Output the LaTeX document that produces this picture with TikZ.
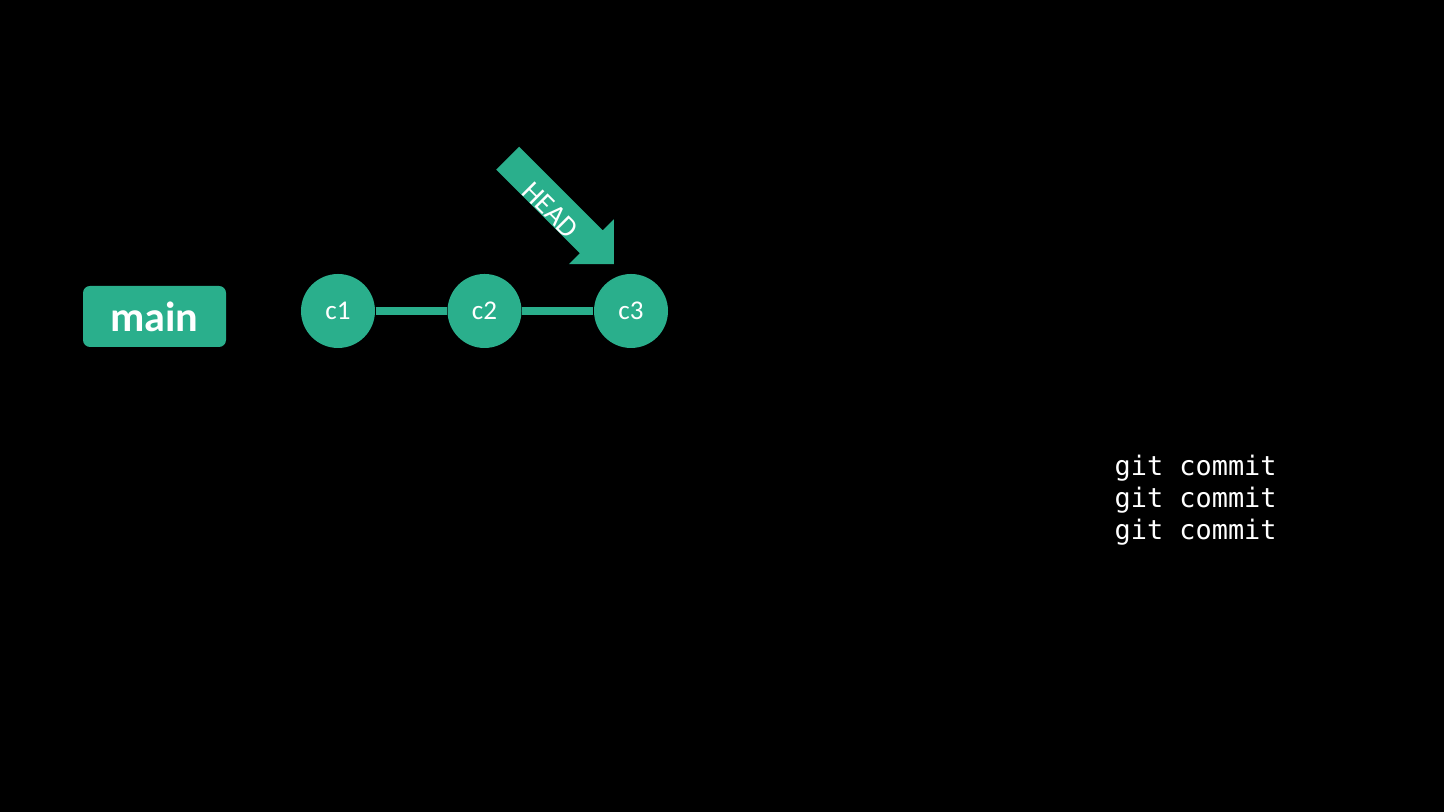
\documentclass[tikz,border=0pt]{standalone}
\usepackage{fontspec}
\setmainfont{Carlito}
\newfontfamily\codefont{DejaVu Sans Mono}
\usepackage{tikz}
\usetikzlibrary{positioning,shapes.arrows}
\definecolor{gitgreen}{RGB}{42,175,140}

\begin{document}
\begin{tikzpicture}[node distance = 1.465cm,
                    commit node/.style={circle,fill=gitgreen,text=white,minimum size=0.74cm,inner sep=0pt,
                                        font=\fontsize{7.7}{9}\selectfont},
                    branch node/.style={rectangle,rounded corners=0.07cm,fill=gitgreen,text=white,
                                        minimum width=1.43cm,minimum height=0.61cm,font=\fontsize{12}{14}\selectfont\bfseries},
                    head node/.style={single arrow,fill=gitgreen,text=white,rotate=-45,
                                      minimum height=1.5cm,single arrow head extend=0.155cm,
                                      single arrow tip angle=90,inner xsep=2pt,inner ysep=0pt,
                                      text height=0.31cm,text depth=0pt,font=\fontsize{8.2}{9}\selectfont},
                    link/.style={gitgreen,line width=0.08cm}]

  \fill[black] (0,0) rectangle (14.44,8.12);
  \useasboundingbox (0,0) rectangle (14.44,8.12);

  \node[commit node] (c1) at (3.38,5.01) {c1};
  \node[commit node] (c2) [right of=c1] {c2};
  \node[commit node] (c3) [right of=c2] {c3};

  \node[branch node] (main) [left of=c1, xshift=-0.37cm, yshift=-0.055cm] {main};

  \node[head node] (head) at (5.55,6.065) {HEAD};

  \draw[link] (c1) -- (c2);
  \draw[link] (c2) -- (c3);

  \node[text=white,align=left,anchor=north west,inner sep=0pt,
        font=\codefont\fontsize{7.65}{9.1}\selectfont] (cmds) at (11.14,3.58)
        {git commit\\git commit\\git commit};
\end{tikzpicture}
\end{document}
